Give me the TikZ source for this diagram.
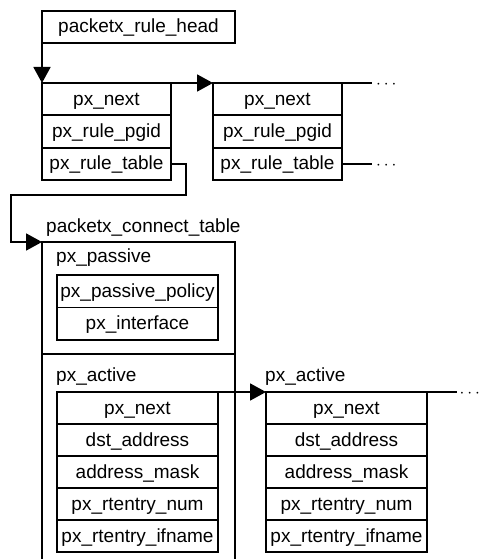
\documentclass[tikz,border=0pt]{standalone}
\usepackage{fontspec}
\setmainfont{Liberation Sans}
\usetikzlibrary{positioning,arrows.meta}
\tikzstyle{field} = [
    draw,
    rectangle,
    line width=1.8pt,
    outer sep=0pt,
    inner sep=0pt,
    text height=16pt,
    text depth=4pt
    ]
\tikzstyle{rulefield} = [field, minimum width=129pt, minimum height=32.33pt]
\tikzstyle{entryfield} = [field, minimum width=161pt, minimum height=32.5pt]
\tikzstyle{link} = [line width=1.8pt, -{Triangle[length=16pt,width=17pt]}]
\tikzstyle{tail} = [line width=1.8pt]
\tikzstyle{moredots} = [anchor=west, inner sep=0pt, xshift=4pt, yshift=-2pt]
\tikzstyle{label} = [anchor=base west, inner sep=0pt]

\begin{document}
\begin{tikzpicture}[x=1pt, y=-1pt,
    every node/.style={font=\fontsize{19pt}{22pt}\selectfont}]
\useasboundingbox (0,0) rectangle (479,559);
\clip (0,0) rectangle (479,559);

% list head
\node[field, minimum width=193pt, minimum height=32pt, anchor=north west] (head) at (42,11) {packetx\_rule\_head};

% rule entries
\node[rulefield, anchor=north west] (next1) at (42,83) {px\_next};
\node[rulefield, below=0pt of next1] (pgid1) {px\_rule\_pgid};
\node[rulefield, below=0pt of pgid1] (table1) {px\_rule\_table};

\node[rulefield, anchor=north west] (next2) at (213,83) {px\_next};
\node[rulefield, below=0pt of next2] (pgid2) {px\_rule\_pgid};
\node[rulefield, below=0pt of pgid2] (table2) {px\_rule\_table};

% connect table
\node[draw, line width=1.8pt, outer sep=0pt, minimum width=193pt, minimum height=360pt, anchor=north west] (conn) at (42,242) {};
\node[label] (conntitle) at (46,232) {packetx\_connect\_table};
\coordinate (split) at (0,354);
\draw[tail] (conn.west |- split) -- (conn.east |- split);

\node[label] (passive) at (56,262) {px\_passive};
\node[entryfield, minimum height=32.5pt, anchor=north west] (policy) at (57,275) {px\_passive\_policy};
\node[entryfield, below=0pt of policy] (iface) {px\_interface};

\node[label] (active1) at (56,381) {px\_active};
\node[entryfield, minimum height=32pt, anchor=north west] (anext1) at (57,392) {px\_next};
\node[entryfield, minimum height=32pt, below=0pt of anext1] (dst1) {dst\_address};
\node[entryfield, minimum height=32pt, below=0pt of dst1] (mask1) {address\_mask};
\node[entryfield, minimum height=32pt, below=0pt of mask1] (num1) {px\_rtentry\_num};
\node[entryfield, minimum height=32pt, below=0pt of num1] (ifname1) {px\_rtentry\_ifname};

\node[label] (active2) at (265,381) {px\_active};
\node[entryfield, minimum height=32pt, anchor=north west] (anext2) at (266,392) {px\_next};
\node[entryfield, minimum height=32pt, below=0pt of anext2] (dst2) {dst\_address};
\node[entryfield, minimum height=32pt, below=0pt of dst2] (mask2) {address\_mask};
\node[entryfield, minimum height=32pt, below=0pt of mask2] (num2) {px\_rtentry\_num};
\node[entryfield, minimum height=32pt, below=0pt of num2] (ifname2) {px\_rtentry\_ifname};

% links
\draw[link] (head.south west) -- (next1.north west);
\draw[link] (next1.north east) -- (next2.north west);

\coordinate (end1) at (372,83);
\draw[tail] (next2.north east) -- (end1);
\node[moredots] (dots1) at (end1) {$\cdots$};

\coordinate (end2) at (end1 |- table2.east);
\draw[tail] (table2.east) -- (end2);
\node[moredots] (dots2) at (end2) {$\cdots$};

\coordinate (bend1) at (186,195);
\coordinate (bend2) at (11,242);
\draw[link] (table1.east) -| (bend1) -| (bend2) -- (conn.north west);

\draw[link] (anext1.north east) -- (anext2.north west);
\coordinate (end3) at (457,392);
\draw[tail] (anext2.north east) -- (end3);
\node[moredots, xshift=-1.5pt] (dots3) at (end3) {$\cdots$};
\end{tikzpicture}
\end{document}
